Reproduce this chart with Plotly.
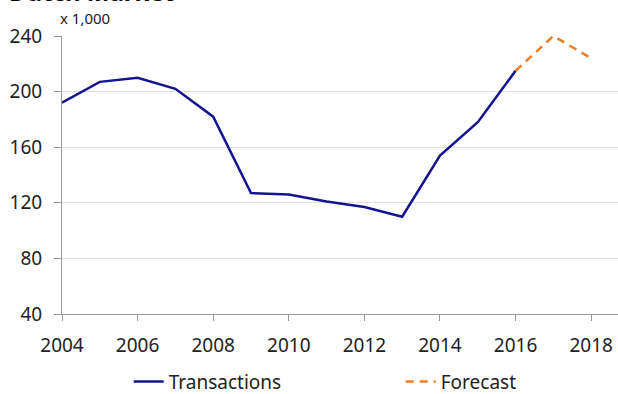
import plotly.graph_objects as go

# Dutch housing market transactions (thousands)
years = [2004, 2005, 2006, 2007, 2008, 2009, 2010, 2011, 2012, 2013, 2014, 2015, 2016]
transactions = [192, 207, 210, 202, 182, 127, 126, 121, 117, 110, 154, 178, 215]

forecast_years = [2016, 2017, 2018]
forecast = [215, 240, 224]

y_ticks = [40, 80, 120, 160, 200, 240]
x_ticks = [2004, 2006, 2008, 2010, 2012, 2014, 2016, 2018]

FONT = "Noto Sans"
NAVY = "#14148f"
ORANGE = "#f07c1e"

fig = go.Figure()
fig.add_trace(go.Scatter(
    x=years, y=transactions, mode="lines", name="Transactions",
    line=dict(color=NAVY, width=2.5),
))
fig.add_trace(go.Scatter(
    x=forecast_years, y=forecast, mode="lines", name="Forecast",
    line=dict(color=ORANGE, width=2.5, dash="8px,6px"),
))

fig.update_layout(
    width=618, height=394,
    margin=dict(l=62, r=0, t=36, b=80, autoexpand=False),
    paper_bgcolor="white", plot_bgcolor="white",
    font=dict(family=FONT, size=19, color="#222222"),
    showlegend=True,
    legend=dict(
        orientation="h", x=0.12, xanchor="left", y=-0.312, yanchor="bottom",
        entrywidth=227, font=dict(size=19, family=FONT),
        bgcolor="rgba(0,0,0,0)",
    ),
    xaxis=dict(
        range=[2004, 2018.71], tickvals=x_ticks, ticktext=[str(v) for v in x_ticks],
        showgrid=False, zeroline=False,
        showline=True, linecolor="#9a9a9a", linewidth=1,
        ticks="outside", ticklen=6, tickcolor="#9a9a9a",
        ticklabelstandoff=8,
        tickfont=dict(size=19, family=FONT, color="#222222"),
    ),
    yaxis=dict(
        range=[40, 240], tickvals=y_ticks,
        showgrid=True, gridcolor="#e0e0e0", gridwidth=1, zeroline=False,
        showline=True, linecolor="#9a9a9a", linewidth=1,
        ticks="outside", ticklen=7, tickcolor="#9a9a9a",
        ticklabelstandoff=8,
        tickfont=dict(size=19, family=FONT, color="#222222"),
    ),
    annotations=[
        dict(text="Dutch Market", xref="paper", yref="paper",
             x=-0.099, xanchor="left", y=1.095, yanchor="bottom", showarrow=False,
             font=dict(family=FONT, size=24, color="#000000", weight="bold")),
        dict(text="x 1,000", xref="paper", yref="paper",
             x=-0.008, xanchor="left", y=1.063, yanchor="middle", showarrow=False,
             font=dict(family=FONT, size=15, color="#222222")),
    ],
)

fig.write_html("out.html")
